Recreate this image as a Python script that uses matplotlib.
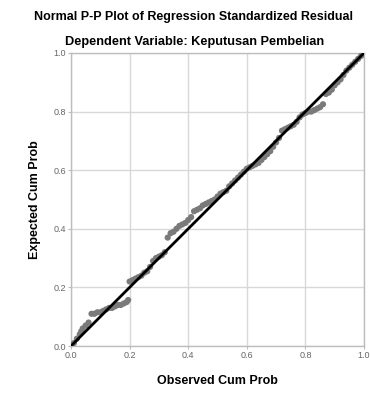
import matplotlib
matplotlib.use("Agg")
import matplotlib.pyplot as plt

# observed cum prob (x) and expected cum prob (y)
obs = [0.01, 0.02, 0.03, 0.035, 0.04, 0.05, 0.06, 0.07, 0.08, 0.09, 0.10,
       0.11, 0.12, 0.13, 0.14, 0.15, 0.16, 0.17, 0.18, 0.19, 0.195,
       0.20, 0.21, 0.22, 0.23, 0.24, 0.25, 0.26, 0.27, 0.28, 0.29, 0.30,
       0.31, 0.32, 0.33, 0.34, 0.35, 0.36, 0.37, 0.38, 0.39, 0.40, 0.41,
       0.42, 0.43, 0.44, 0.45, 0.46, 0.47, 0.48, 0.49, 0.50, 0.51, 0.52,
       0.53, 0.54, 0.55, 0.56, 0.57, 0.58, 0.59, 0.60, 0.61, 0.62, 0.63,
       0.64, 0.65, 0.66, 0.67, 0.68, 0.69, 0.70, 0.71, 0.72, 0.73, 0.74,
       0.75, 0.76, 0.77, 0.78, 0.79, 0.80, 0.81, 0.82, 0.83, 0.84, 0.85,
       0.86, 0.87, 0.88, 0.89, 0.90, 0.91, 0.92, 0.93, 0.94, 0.95, 0.96,
       0.97, 0.98, 0.99]
exp = [0.01, 0.025, 0.04, 0.05, 0.06, 0.07, 0.08, 0.11, 0.11, 0.115, 0.115,
       0.12, 0.125, 0.13, 0.13, 0.135, 0.14, 0.14, 0.145, 0.15, 0.157,
       0.22, 0.225, 0.23, 0.235, 0.24, 0.25, 0.255, 0.27, 0.29, 0.30, 0.305,
       0.31, 0.32, 0.37, 0.385, 0.39, 0.40, 0.41, 0.415, 0.42, 0.43, 0.44,
       0.46, 0.465, 0.47, 0.48, 0.485, 0.49, 0.495, 0.50, 0.51, 0.52, 0.525,
       0.53, 0.545, 0.555, 0.565, 0.575, 0.585, 0.595, 0.605, 0.61, 0.615, 0.62,
       0.625, 0.635, 0.645, 0.655, 0.665, 0.68, 0.695, 0.71, 0.735, 0.74, 0.745,
       0.75, 0.755, 0.765, 0.78, 0.79, 0.795, 0.80, 0.80, 0.805, 0.81, 0.815,
       0.825, 0.86, 0.865, 0.875, 0.89, 0.90, 0.91, 0.925, 0.94, 0.95, 0.96,
       0.97, 0.98, 0.99]
diag = [0.0, 1.0]
ticks = [0.0, 0.2, 0.4, 0.6, 0.8, 1.0]
tick_labels = ["0.0", "0.2", "0.4", "0.6", "0.8", "1.0"]

plt.rcParams["font.family"] = ["Liberation Sans", "DejaVu Sans"]

fig = plt.figure(figsize=(3.7, 3.94), dpi=100)
ax = fig.add_axes([71 / 370, 48 / 394, 293 / 370, 293 / 394])

ax.scatter(obs, exp, s=20, color="#7a7a7a", edgecolors="none", zorder=3)
ax.plot(diag, diag, color="black", linewidth=2, zorder=4)

ax.set_xlim(0, 1)
ax.set_ylim(0, 1)
ax.set_xticks(ticks)
ax.set_xticklabels(tick_labels)
ax.set_yticks(ticks)
ax.set_yticklabels(tick_labels)
ax.grid(True, color="#d8d8d8", linewidth=1)
ax.set_axisbelow(True)
for s in ax.spines.values():
    s.set_color("#bdbdbd")
    s.set_linewidth(1)
ax.tick_params(labelsize=6.5, colors="#bdbdbd", labelcolor="#666666",
               length=2, width=0.8, pad=1.5)

ax.set_xlabel("Observed Cum Prob", fontsize=9, fontweight="bold", labelpad=11)
ax.set_ylabel("Expected Cum Prob", fontsize=9, fontweight="bold", labelpad=9)

fig.text(0.523, 1 - 17 / 394, "Normal P-P Plot of Regression Standardized Residual",
         ha="center", va="center", fontsize=9, fontweight="bold")
fig.text(0.525, 1 - 42 / 394, "Dependent Variable: Keputusan Pembelian",
         ha="center", va="center", fontsize=9.2, fontweight="bold")

fig.savefig("out.png", dpi=100)
